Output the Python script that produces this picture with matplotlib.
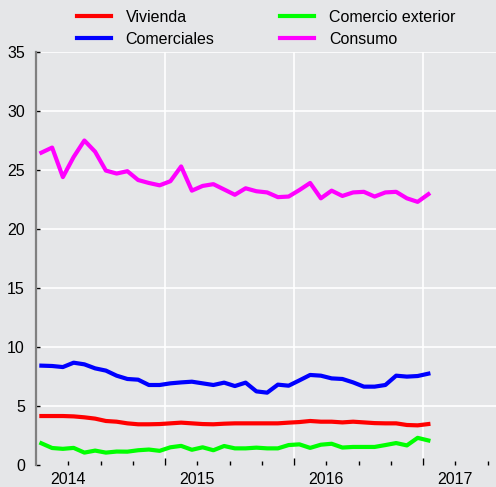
import matplotlib
matplotlib.use('Agg')
import matplotlib.pyplot as plt
import numpy as np
import pandas as pd
from matplotlib.ticker import FixedLocator, FuncFormatter

plt.rcParams['font.family'] = ['Liberation Sans', 'DejaVu Sans']

months = pd.period_range('2013-10', '2016-10', freq='M')

vivienda = [4.15, 4.15, 4.15, 4.12, 4.04, 3.93, 3.73, 3.67, 3.53, 3.45,
            3.45, 3.47, 3.53, 3.59, 3.53, 3.47, 3.45, 3.50, 3.53, 3.53,
            3.53, 3.53, 3.53, 3.59, 3.64, 3.73, 3.67, 3.67, 3.61, 3.67,
            3.61, 3.55, 3.53, 3.53, 3.39, 3.36, 3.47]
comerciales = [8.42, 8.39, 8.30, 8.67, 8.53, 8.19, 8.00, 7.57, 7.29, 7.23,
               6.78, 6.78, 6.92, 7.00, 7.06, 6.92, 6.78, 6.98, 6.69, 6.98,
               6.24, 6.13, 6.81, 6.72, 7.17, 7.63, 7.57, 7.34, 7.29, 7.00,
               6.64, 6.64, 6.78, 7.57, 7.49, 7.54, 7.74]
comercio_exterior = [1.84, 1.44, 1.37, 1.45, 1.05, 1.22, 1.05, 1.14, 1.13, 1.25,
                     1.31, 1.20, 1.50, 1.62, 1.29, 1.50, 1.25, 1.61, 1.41, 1.41,
                     1.47, 1.41, 1.41, 1.69, 1.75, 1.45, 1.72, 1.80, 1.48, 1.53,
                     1.53, 1.53, 1.69, 1.86, 1.66, 2.30, 2.08]
consumo = [26.47, 26.90, 24.40, 26.10, 27.50, 26.55, 24.95, 24.70, 24.90, 24.15,
           23.90, 23.70, 24.05, 25.30, 23.25, 23.65, 23.80, 23.35, 22.90, 23.45,
           23.20, 23.10, 22.70, 22.75, 23.30, 23.90, 22.60, 23.25, 22.80, 23.10,
           23.15, 22.75, 23.10, 23.15, 22.60, 22.30, 22.95]

labels = ['Vivienda', 'Comerciales', 'Comercio exterior', 'Consumo']
colors = ['#ff0000', '#0000ff', '#00ff00', '#ff00ff']
year_labels = ['2014', '2015', '2016', '2017']

# x in months since Oct 2013, points at mid-month
x = np.array([(p.year - 2013) * 12 + p.month - 10 for p in months]) + 0.5

bg = '#e5e6e8'
fig = plt.figure(figsize=(4.96, 4.87), dpi=100, facecolor=bg)
ax = fig.add_axes([36 / 496, 22 / 487, 460 / 496, 413 / 487])
ax.set_facecolor(bg)

series = [vivienda, comerciales, comercio_exterior, consumo]
handles = []
for ys, c, l in zip(series, colors, labels):
    h, = ax.plot(x, ys, color=c, lw=3.0, label=l, zorder=3)
    handles.append(h)

ax.set_xlim(0, 460 / 10.75)
ax.set_ylim(0, 35)
ax.set_yticks(range(0, 36, 5))

ax.xaxis.set_major_locator(FixedLocator([12, 24, 36]))
minor = [3, 6, 9, 15, 18, 21, 27, 30, 33, 39, 42]
ax.xaxis.set_minor_locator(FixedLocator(minor))
year_pos = {3: year_labels[0], 15: year_labels[1], 27: year_labels[2], 39: year_labels[3]}
ax.xaxis.set_minor_formatter(FuncFormatter(lambda v, p: year_pos.get(int(round(v)), '')))
ax.xaxis.set_major_formatter(FuncFormatter(lambda v, p: ''))

ax.tick_params(axis='x', which='major', direction='in', length=5, width=1, color='black')
ax.tick_params(axis='x', which='minor', direction='in', length=3, width=1, color='black',
               pad=5, labelsize=11.5)
ax.tick_params(axis='y', which='major', direction='in', length=3, width=1, color='black',
               pad=8, labelsize=11.5)

ax.grid(True, axis='y', color='white', lw=1.2, zorder=1)
ax.grid(True, axis='x', which='major', color='white', lw=1.2, zorder=1)
ax.get_ygridlines()[0].set_visible(False)
ax.set_axisbelow(True)

for s in ['top', 'right', 'bottom']:
    ax.spines[s].set_visible(False)
ax.spines['left'].set_color('#808080')
ax.spines['left'].set_linewidth(1.6)

fig.legend(handles, labels, ncol=2, loc='upper left',
           bbox_to_anchor=(77 / 496, 1 - 10 / 487), frameon=False, fontsize=11.5,
           handlelength=2.1, handletextpad=0.95, columnspacing=4.1,
           labelspacing=0.42, borderpad=0, borderaxespad=0)

fig.savefig('out.png', dpi=100, facecolor=bg)
